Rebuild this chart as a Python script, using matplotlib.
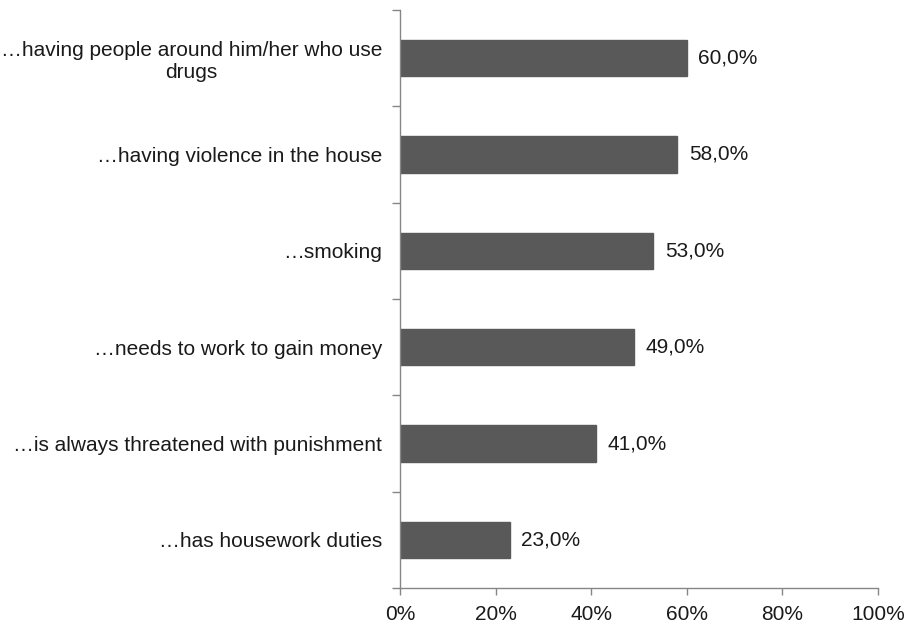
import numpy as np
import matplotlib
matplotlib.use("Agg")
import matplotlib.pyplot as plt
from matplotlib.ticker import FuncFormatter, FixedLocator

plt.rcParams['font.family'] = ['Liberation Sans', 'DejaVu Sans']

categories = [
    "…having people around him/her who use\ndrugs",
    "…having violence in the house",
    "…smoking",
    "…needs to work to gain money",
    "…is always threatened with punishment",
    "…has housework duties",
]
values = [60.0, 58.0, 53.0, 49.0, 41.0, 23.0]
x_ticks = [0, 20, 40, 60, 80, 100]

bar_color = "#595959"
axis_color = "#868686"
text_color = "#1a1a1a"
fs = 15

fig = plt.figure(figsize=(9.12, 6.22), dpi=100)
ax = fig.add_axes([400 / 912, 34 / 622, 478 / 912, 578 / 622])

pos = np.arange(len(categories))[::-1]
ax.barh(pos, values, height=0.38, color=bar_color, edgecolor=bar_color, zorder=2)

for p, v in zip(pos, values):
    ax.text(v + 2.4, p, f"{v:.1f}%".replace(".", ","), va="center", ha="left",
            fontsize=fs, color=text_color)

ax.set_xlim(0, 100)
ax.set_ylim(-0.5, len(categories) - 0.5)

# category labels sit between the separator ticks
ax.set_yticks(pos)
ax.set_yticklabels(categories, fontsize=fs, color=text_color, ha="right",
                   multialignment="center")
ax.tick_params(axis="y", length=0, pad=13)
ax.yaxis.set_minor_locator(FixedLocator(np.arange(-0.5, len(categories), 1.0)))
ax.tick_params(axis="y", which="minor", length=6, color=axis_color, width=1)

ax.set_xticks(x_ticks)
ax.xaxis.set_major_formatter(FuncFormatter(lambda x, _: f"{x:.0f}%"))
ax.tick_params(axis="x", length=5, color=axis_color, width=1, labelsize=fs,
               labelcolor=text_color, pad=7)

for side in ["top", "right"]:
    ax.spines[side].set_visible(False)
for side in ["left", "bottom"]:
    ax.spines[side].set_color(axis_color)
    ax.spines[side].set_linewidth(1)

fig.savefig("out.png", dpi=100)
